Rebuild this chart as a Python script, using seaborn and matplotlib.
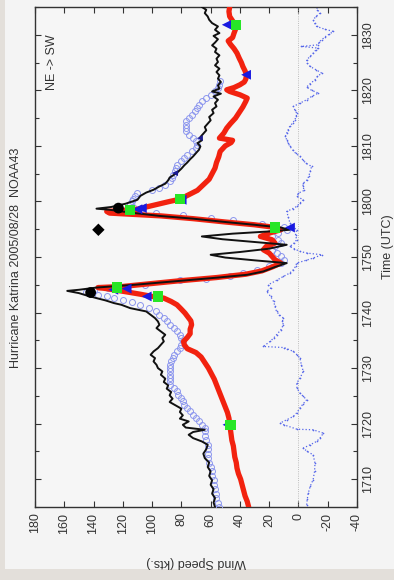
import numpy as np
import pandas as pd
import matplotlib
matplotlib.use('Agg')
import matplotlib.pyplot as plt
from matplotlib.patches import Rectangle
import seaborn as sns

# time in minutes after 17:00 UTC, speeds in kts
black_t = [5.0, 5.8, 6.6, 7.4, 8.2, 9.0, 9.8, 10.6, 11.4, 12.2, 13.0, 13.8, 14.6, 15.4, 16.2, 16.8,
           17.4, 18.0, 18.5, 18.9, 19.3, 19.8, 20.4, 20.9, 21.5, 22.1, 22.7, 23.3, 23.9, 24.5, 25.1,
           25.7, 26.3, 26.9, 27.5, 28.1, 28.8, 29.4, 30.0, 30.6, 31.2, 31.8, 32.4, 33.0, 33.6, 34.2,
           34.8, 35.4, 36.0, 36.6, 37.2, 37.8, 38.4, 39.0, 39.6, 40.2, 40.8, 41.4, 41.7, 42.2, 42.6,
           43.1, 43.5, 43.9, 44.1, 44.5, 45.0, 45.7, 46.3, 46.8, 47.4, 48.2, 48.9, 49.4, 49.9, 50.4,
           50.9, 51.5, 52.2, 52.7, 53.2, 53.7, 54.2, 54.6, 54.9, 55.3, 55.8, 56.3, 56.9, 57.4, 58.0,
           58.5, 58.7, 59.0, 59.6, 60.3, 61.0, 61.6, 62.1, 62.7, 63.2, 63.8, 64.3, 64.8, 65.4, 65.9,
           66.5, 67.0, 67.6, 68.1, 68.7, 69.3, 69.9, 70.5, 71.0, 71.6, 72.2, 72.8, 73.4, 74.0, 74.6,
           75.2, 75.9, 76.5, 77.1, 77.7, 78.3, 78.9, 79.4, 79.8, 80.3, 80.9, 81.5, 82.1, 82.7, 83.3,
           83.9, 84.5, 85.1, 85.7, 86.3, 86.9, 87.5, 88.1, 88.6, 89.2, 89.8, 90.3, 90.9, 91.5, 92.1,
           92.7, 93.3, 93.9, 94.5, 95.0]
black_s = [57, 58, 57, 59, 58, 60, 59, 61, 60, 62, 61, 64, 65, 63, 62, 66,
           72, 75, 72, 64, 77, 79, 75, 81, 79, 81, 80, 84, 88, 86, 88,
           87, 90, 89, 92, 91, 94, 93, 96, 97, 99, 98, 101, 99, 96, 94,
           92, 93, 91, 94, 97, 95, 96, 98, 101, 104, 115, 121, 126, 132, 138,
           145, 150, 158, 150, 138, 112, 81, 55, 35, 24, 16, 8, 30, 50, 60,
           40, 20, 8, 30, 52, 66, 45, 20, 6, 12, 30, 50, 72, 95, 115,
           129, 138, 128, 118, 110, 108, 104, 99, 95, 91, 89, 88, 85, 82, 80,
           78, 76, 74, 72, 70, 68, 67, 69, 66, 67, 65, 63, 64, 62, 60,
           61, 58, 59, 56, 57, 55, 58, 53, 59, 54, 55, 53, 55, 54, 56,
           54, 57, 55, 56, 54, 57, 56, 59, 57, 55, 58, 54, 57, 55, 59,
           61, 62, 64, 63, 66]

red_t = [5.0, 6.0, 7.0, 8.0, 9.0, 10.0, 11.0, 12.0, 13.0, 14.0, 15.0, 16.0, 17.0, 18.0, 19.0, 20.0,
         21.0, 22.0, 23.0, 24.0, 25.0, 26.0, 27.0, 28.0, 29.0, 30.0, 31.0, 32.0, 32.8, 33.5, 34.2,
         34.8, 35.5, 36.2, 37.0, 37.8, 38.5, 39.2, 39.9, 40.6, 41.4, 42.0, 42.6, 42.9, 43.3, 43.7,
         44.0, 44.3, 44.5, 44.7, 45.1, 45.7, 46.3, 46.9, 47.5, 48.2, 48.9, 49.5, 50.1, 50.7, 51.3,
         51.9, 52.5, 53.1, 53.7, 54.3, 54.9, 55.3, 55.8, 56.3, 56.9, 57.4, 57.9, 58.2, 58.4, 58.6,
         59.0, 59.5, 60.0, 60.4, 61.2, 62.0, 63.0, 64.0, 65.0, 66.0, 67.0, 68.0, 69.0, 70.0, 70.6,
         71.0, 71.4, 72.3, 73.2, 74.0, 75.0, 76.0, 77.0, 78.0, 78.6, 79.2, 79.8, 80.1, 80.5, 81.0,
         81.5, 82.0, 82.8, 83.5, 84.3, 85.0, 85.8, 86.7, 87.5, 88.3, 88.9, 89.5, 90.3, 91.0, 91.8,
         92.5, 93.3, 94.2, 95.0]
red_s = [34, 35, 36.5, 37.5, 38.5, 39.5, 41, 42, 42.5, 43.5, 44, 44.5, 45.5, 46, 46.5, 47,
         47.5, 48.5, 50, 51.5, 53, 54.5, 56, 57.5, 59.5, 61.5, 64, 66.5, 70, 76, 78,
         78.5, 76, 74, 74, 73, 73.5, 75.5, 77.5, 80, 83, 87, 92, 100, 108, 117,
         124, 131, 137, 120, 105, 82, 56, 36, 25, 18, 12, 16, 18, 20, 24,
         22, 16, 18, 26, 20, 12, 15, 30, 50, 72, 94, 129, 131, 120, 110,
         104, 96, 88, 81, 75, 69, 65, 61, 59, 57, 56, 54.5, 53.5, 50, 46,
         45, 54, 51, 49, 46.5, 43, 40.5, 38, 36, 35, 40, 47, 49, 44, 40,
         37, 36, 35.5, 36.5, 38, 39, 40.5, 42, 44, 46.5, 48, 45, 44, 43, 43,
         45, 47, 47.5, 47]

circ_t = [5.0, 5.8, 6.6, 7.4, 8.2, 9.0, 9.8, 10.6, 11.4, 12.2, 13.0, 13.8, 14.6, 15.4, 16.2, 17.0,
          17.8, 18.6, 19.2, 19.8, 20.4, 21.0, 21.6, 22.2, 22.8, 23.4, 24.0, 24.6, 25.2, 25.8, 26.4,
          27.0, 27.6, 28.2, 28.8, 29.4, 30.0, 30.6, 31.2, 31.8, 32.4, 33.0, 33.6, 34.2, 34.8, 35.4,
          36.0, 36.6, 37.2, 37.8, 38.4, 39.0, 39.6, 40.2, 40.8, 41.4, 41.9, 42.3, 42.6, 42.9, 43.2,
          43.5, 43.7, 44.1, 44.5, 45.0, 45.9, 46.1, 46.5, 47.1, 47.7, 48.3, 48.9, 49.5, 50.1, 50.7,
          51.3, 51.9, 52.5, 53.1, 53.7, 54.3, 54.9, 55.4, 56.0, 56.6, 57.0, 57.5, 58.0, 58.5, 59.0,
          59.5, 60.0, 60.5, 61.0, 61.5, 62.0, 62.4, 63.0, 63.6, 64.2, 64.8, 65.4, 66.0, 66.6, 67.2,
          67.8, 68.4, 69.0, 69.6, 70.2, 70.8, 71.4, 72.0, 72.6, 73.2, 73.8, 74.4, 75.0, 75.6, 76.2,
          76.8, 77.4, 78.0, 78.6, 79.2, 79.8, 80.4, 81.0, 81.6]
circ_s = [54, 55, 56, 56, 57, 58, 58, 59, 59, 60, 61, 62, 62, 62, 62, 63,
          64, 64, 64, 66, 68, 70, 72, 74, 76, 78, 79, 80, 82, 83, 85,
          88, 88, 88, 88, 88, 88, 88, 87, 86, 85, 83, 81, 80, 79, 80,
          81, 83, 85, 88, 90, 92, 95, 97, 102, 108, 114, 120, 126, 131, 137,
          142, 145, 140, 130, 105, 81, 63, 47, 38, 28, 20, 12, 10, 12, 15,
          18, 16, 12, 14, 18, 14, 8, 10, 25, 45, 60, 79, 97, 108, 113,
          115, 114, 113, 112, 110, 100, 95, 91, 88, 86.5, 85.5, 84.5, 84, 83, 80,
          78, 76, 73, 70, 69, 70, 72, 75, 76.5, 77, 77, 76.5, 75, 73, 71,
          69.5, 68, 66, 63, 60, 57, 55, 54, 53.5]

diff_t = [5.4, 6.4, 7.5, 8.7, 9.9, 11.4, 12.9, 14.4, 15.0, 15.6, 16.2, 16.8, 17.5, 18.3, 18.9, 19.0,
          19.8, 20.1, 20.7, 21.3, 22.0, 22.8, 23.5, 24.3, 25.0, 25.5, 26.4, 27.3, 28.2, 29.4, 30.6,
          31.8, 32.4, 33.0, 33.5, 33.7, 33.9, 34.8, 35.4, 36.0, 36.9, 37.8, 38.4, 39.0, 39.6, 40.2,
          41.1, 42.0, 42.9, 43.8, 44.4, 45.0, 45.8, 46.5, 47.1, 47.7, 48.3, 48.9, 49.4, 49.8, 50.4,
          50.7, 51.0, 51.5, 51.9, 52.5, 53.1, 54.0, 54.9, 55.5, 56.1, 57.2, 58.2, 58.7, 59.1, 59.7,
          60.3, 60.9, 61.5, 62.0, 62.7, 63.3, 63.9, 64.5, 65.4, 66.3, 66.9, 67.5, 68.1, 68.7, 69.3,
          69.9, 70.5, 71.1, 71.7, 72.3, 72.9, 73.5, 74.1, 74.7, 75.3, 75.9, 76.5, 77.1, 77.7, 78.3,
          78.9, 79.5, 80.0, 80.6, 81.2, 81.9, 82.5, 83.1, 83.7, 84.3, 84.9, 85.5, 86.1, 86.7, 87.3,
          87.6, 87.9, 88.2, 88.7, 89.1, 89.6, 90.1, 90.6, 91.0, 91.5, 92.1, 92.7, 93.3, 93.9, 94.5,
          95.0]
diff_s = [-5.6, -6, -6.7, -8, -10, -11, -11.3, -10, -6, -3.3, -8, -12.4, -15, -17, -10, 1,
          10, 12.6, 8, 3.5, 1, -1, -3, -5.6, -3, -1, 1, 1.2, -1, -3.3, -2,
          -1, 1, 3.5, 8, 10, 24, 19.4, 17, 15, 12, 10.3, 11, 10.3, 13, 15,
          16, 17, 19, 21.7, 19, 20.6, 15, 10.3, 6, 3.5, 2, 1.2, -5, -10, -16,
          -6, -1, 3, 5.8, 3, 1.2, 2, 1.2, 4, 5.8, 7, 8, 4, 1.2, -1,
          -3.3, 1, 0, -4, -3, -3.3, -6, -7, -8, -9, -5, -3, -1, 2, 4,
          5.8, 7, 8, 9, 8, 7, 6, 4, 2.5, 1.5, 1.2, 2.5, 3.5, -1, -5.6,
          -9, -13.6, -9, -5.6, -8, -11.3, -13, -15.9, -12, -7.9, -6, -5.6, -8, -10.1, -12,
          -13.6, -2, -13.6, -14, -15.9, -18, -21, -23.8, -18, -12.4, -11, -10.1, -12, -14.7, -13,
          -12.4]

# fix markers
green_t = [19.8, 42.9, 44.5, 55.3, 58.5, 60.4, 91.8]
green_s = [46.5, 95.8, 124, 16, 115, 81, 42.7]
tri_t = [19.8, 42.9, 44.1, 44.3, 58.6, 58.8, 60.3, 55.3, 82.8, 91.8]
tri_s = [48.5, 103.7, 126.5, 117.4, 110, 107, 79.8, 5.8, 35.8, 49]
smalltri_t = [65.1, 71.4]
smalltri_s = [84.3, 67.3]
dot_t = [43.6, 58.8]
dot_s = [142, 123]
diamond_t = [54.9]
diamond_s = [136.7]

time_ticks = [10, 20, 30, 40, 50, 60, 70, 80, 90]
time_labels = ['1710', '1720', '1730', '1740', '1750', '1800', '1810', '1820', '1830']
speed_ticks = list(range(-40, 181, 20))

sns.set_style('white')
plt.rcParams['font.family'] = ['Liberation Sans', 'DejaVu Sans']
ink = '#333333'

fig = plt.figure(figsize=(3.94, 5.80), dpi=100, facecolor='#e3dfda')
page = Rectangle((5 / 394, 1 - 569 / 580), 389 / 394, 569 / 580,
                 transform=fig.transFigure, facecolor='#f4f4f4', edgecolor='none', zorder=-10)
fig.add_artist(page)
ax = fig.add_axes([35 / 394, 1 - 507 / 580, 322 / 394, 500 / 580])
ax.set_zorder(1)
ax.set_facecolor('#f6f6f6')

ax.axvline(0, color='#aaaaaa', lw=0.6, ls=':', zorder=1)

sns.lineplot(x=diff_s, y=diff_t, sort=False, estimator=None, ax=ax, color='#5566ea',
             lw=0.9, ls=':', marker='.', markersize=2.4, markeredgewidth=0, zorder=2)
sns.lineplot(x=circ_s, y=circ_t, sort=False, estimator=None, ax=ax, linestyle='none',
             marker='o', markersize=4.3, markerfacecolor='none', markeredgecolor='#8c96ee',
             markeredgewidth=0.7, zorder=3)
sns.lineplot(x=red_s, y=red_t, sort=False, estimator=None, ax=ax, color='#f2220f',
             lw=3.8, zorder=4)
sns.lineplot(x=black_s, y=black_t, sort=False, estimator=None, ax=ax, color='#111111',
             lw=1.4, zorder=5)

sns.scatterplot(x=green_s, y=green_t, ax=ax, marker='s', s=55, color='#27e627',
                edgecolor='none', zorder=7)
sns.scatterplot(x=tri_s, y=tri_t, ax=ax, marker='<', s=50, color='#1a1ae0',
                edgecolor='none', zorder=6)
sns.scatterplot(x=smalltri_s, y=smalltri_t, ax=ax, marker='<', s=18, color='#1a1a90',
                edgecolor='none', zorder=6)
sns.scatterplot(x=dot_s, y=dot_t, ax=ax, marker='o', s=60, color='#000000',
                edgecolor='none', zorder=8)
sns.scatterplot(x=diamond_s, y=diamond_t, ax=ax, marker='D', s=40, color='#000000',
                edgecolor='none', zorder=8)

ax.set_xlim(180, -40)
ax.set_ylim(5, 95)
ax.set_xticks(speed_ticks)
ax.set_xticklabels([str(v) for v in speed_ticks])
ax.set_yticks(time_ticks)
ax.set_yticklabels(time_labels)
ax.set_yticks(np.arange(5, 96, 5), minor=True)
ax.tick_params(axis='both', which='both', direction='in', color=ink, width=0.8,
               top=True, bottom=True, left=True, right=True, labelcolor=ink, labelsize=9)
ax.tick_params(axis='both', which='major', length=4)
ax.tick_params(axis='y', which='minor', length=3)
ax.tick_params(axis='x', labelrotation=90, pad=4)
ax.tick_params(axis='y', labelleft=False, labelright=True, labelrotation=90, pad=4)
for lab in ax.get_yticklabels():
    lab.set_va('center')

for sp in ax.spines.values():
    sp.set_color(ink)
    sp.set_linewidth(1.0)

ax.set_xlabel('Wind Speed (kts.)', rotation=180, color=ink, fontsize=9, va='center')
ax.xaxis.set_label_coords(0.5, -0.11)
ax.yaxis.set_label_position('right')
ax.set_ylabel('Time (UTC)', rotation=90, color=ink, fontsize=9, va='center')
ax.yaxis.set_label_coords(1.096, 0.52)

fig.text(16 / 394, 1 - 258 / 580, 'Hurricane Katrina 2005/08/28  NOAA43', rotation=90,
         ha='center', va='center', color=ink, fontsize=9)
ax.text(0.053, 0.89, 'NE -> SW', transform=ax.transAxes, rotation=90,
        ha='center', va='center', color=ink, fontsize=9)

fig.savefig('out.png', dpi=100, facecolor=fig.get_facecolor())
